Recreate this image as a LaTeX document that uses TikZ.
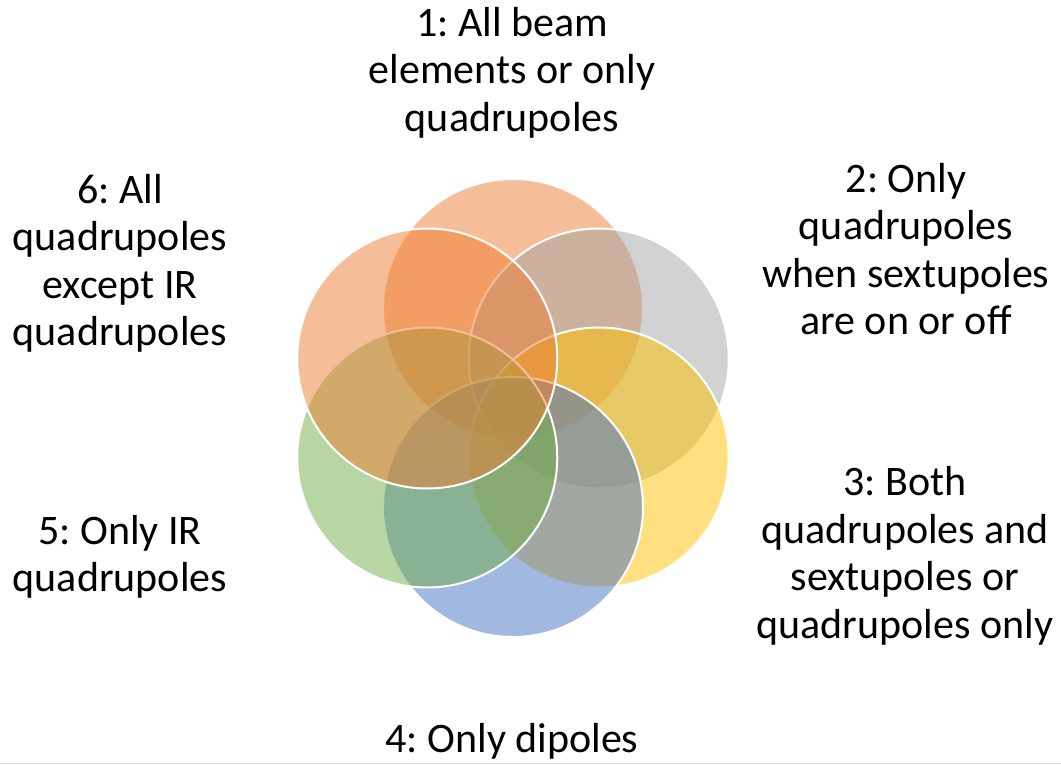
\documentclass[tikz,border=0pt]{standalone}
\usepackage{fontspec}
\setmainfont{Carlito}
\frenchspacing
\definecolor{cOrange}{HTML}{ED7D31}
\definecolor{cGray}{HTML}{A5A5A5}
\definecolor{cGold}{HTML}{FFC000}
\definecolor{cBlue}{HTML}{4472C4}
\definecolor{cGreen}{HTML}{70AD47}
\definecolor{edgeline}{HTML}{D9DEE3}
\tikzset{
  ring/.style={circle, minimum size=260pt, inner sep=0pt, fill=#1, fill opacity=0.5, draw=white, draw opacity=1, line width=2pt},
  caption/.style={align=center, inner sep=0pt, font=\fontsize{42}{47.5}\selectfont}
}
\begin{document}
\begin{tikzpicture}[x=1pt,y=1pt]
\useasboundingbox (0,0) rectangle (1061,764);
\coordinate (hub) at (513,356);
% six overlapping rings around the hub
\node[ring=cOrange] (r1) at ([shift={(90:99)}]hub) {};
\node[ring=cGray]   (r2) at ([shift={(30:99)}]hub) {};
\node[ring=cGold]   (r3) at ([shift={(-30:99)}]hub) {};
\node[ring=cBlue]   (r4) at ([shift={(-90:99)}]hub) {};
\node[ring=cGreen]  (r5) at ([shift={(210:99)}]hub) {};
\node[ring=cOrange] (r6) at ([shift={(150:99)}]hub) {};
% captions
\node[caption] (t1) at (512,691.5) {1: All beam\\elements or only\\quadrupoles};
\node[caption] (t2) at (906,515) {2: Only\\quadrupoles\\when sextupoles\\are on or off};
\node[caption] (t3) at (905,208) {3: Both\\quadrupoles and\\sextupoles or\\quadrupoles only};
\node[caption] (t4) at (512,23) {4: Only dipoles};
\node[caption] (t5) at (120,207) {5: Only IR\\quadrupoles};
\node[caption] (t6) at (120,500.5) {6: All\\quadrupoles\\except IR\\quadrupoles};
% lower page edge
\draw[edgeline, line width=1.5pt] (0,0.75) -- (1061,0.75);
\end{tikzpicture}
\end{document}
